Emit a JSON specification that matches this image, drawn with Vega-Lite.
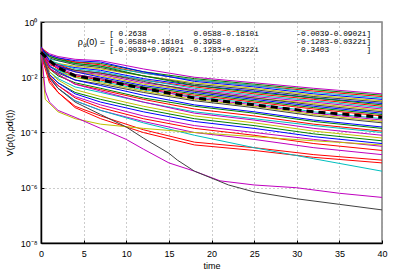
{
"$schema":"https://vega.github.io/schema/vega-lite/v6.json",
"width":341,"height":221,"autosize":"none",
"padding":{"left":41,"top":22,"right":25,"bottom":31},
"background":"white",
"config":{"view":{"stroke":"#808080","strokeWidth":1.5},"font":"Liberation Sans"},
"datasets":{
"runs":[
{"s":1,"t":0,"v":1.12e-1},{"s":1,"t":1,"v":7.08e-2},{"s":1,"t":2,"v":5.62e-2},{"s":1,"t":4,"v":4.47e-2},{"s":1,"t":7,"v":3.98e-2},{"s":1,"t":12,"v":2.0e-2},{"s":1,"t":18,"v":1.0e-2},{"s":1,"t":25,"v":6.31e-3},{"s":1,"t":32,"v":3.98e-3},{"s":1,"t":40,"v":2.51e-3},
{"s":2,"t":0,"v":8.91e-2},{"s":2,"t":1,"v":5.62e-2},{"s":2,"t":2,"v":4.47e-2},{"s":2,"t":4,"v":3.55e-2},{"s":2,"t":7,"v":3.16e-2},{"s":2,"t":12,"v":1.58e-2},{"s":2,"t":18,"v":8.91e-3},{"s":2,"t":25,"v":5.62e-3},{"s":2,"t":32,"v":3.55e-3},{"s":2,"t":40,"v":2.24e-3},
{"s":3,"t":0,"v":1.26e-1},{"s":3,"t":1,"v":6.31e-2},{"s":3,"t":2,"v":5.01e-2},{"s":3,"t":4,"v":3.55e-2},{"s":3,"t":7,"v":2.82e-2},{"s":3,"t":12,"v":1.41e-2},{"s":3,"t":18,"v":7.94e-3},{"s":3,"t":25,"v":5.01e-3},{"s":3,"t":32,"v":3.16e-3},{"s":3,"t":40,"v":2.0e-3},
{"s":4,"t":0,"v":7.94e-2},{"s":4,"t":1,"v":4.47e-2},{"s":4,"t":2,"v":3.98e-2},{"s":4,"t":4,"v":3.16e-2},{"s":4,"t":7,"v":2.51e-2},{"s":4,"t":12,"v":1.41e-2},{"s":4,"t":18,"v":7.94e-3},{"s":4,"t":25,"v":5.01e-3},{"s":4,"t":32,"v":2.82e-3},{"s":4,"t":40,"v":1.78e-3},
{"s":5,"t":0,"v":1.0e-1},{"s":5,"t":1,"v":6.31e-2},{"s":5,"t":2,"v":5.01e-2},{"s":5,"t":4,"v":3.98e-2},{"s":5,"t":7,"v":3.55e-2},{"s":5,"t":12,"v":1.58e-2},{"s":5,"t":18,"v":7.08e-3},{"s":5,"t":25,"v":4.47e-3},{"s":5,"t":32,"v":2.51e-3},{"s":5,"t":40,"v":1.58e-3},
{"s":6,"t":0,"v":7.08e-2},{"s":6,"t":1,"v":3.98e-2},{"s":6,"t":2,"v":3.16e-2},{"s":6,"t":4,"v":2.51e-2},{"s":6,"t":7,"v":2.0e-2},{"s":6,"t":12,"v":1.12e-2},{"s":6,"t":18,"v":6.31e-3},{"s":6,"t":25,"v":3.98e-3},{"s":6,"t":32,"v":2.24e-3},{"s":6,"t":40,"v":1.41e-3},
{"s":7,"t":0,"v":1.0e-1},{"s":7,"t":1,"v":5.01e-2},{"s":7,"t":2,"v":3.98e-2},{"s":7,"t":4,"v":2.82e-2},{"s":7,"t":7,"v":2.24e-2},{"s":7,"t":12,"v":1.12e-2},{"s":7,"t":18,"v":5.62e-3},{"s":7,"t":25,"v":3.55e-3},{"s":7,"t":32,"v":2.0e-3},{"s":7,"t":40,"v":1.26e-3},
{"s":8,"t":0,"v":6.31e-2},{"s":8,"t":1,"v":3.55e-2},{"s":8,"t":2,"v":2.82e-2},{"s":8,"t":4,"v":2.24e-2},{"s":8,"t":7,"v":1.78e-2},{"s":8,"t":12,"v":8.91e-3},{"s":8,"t":18,"v":5.01e-3},{"s":8,"t":25,"v":3.16e-3},{"s":8,"t":32,"v":1.78e-3},{"s":8,"t":40,"v":1.12e-3},
{"s":9,"t":0,"v":1.12e-1},{"s":9,"t":1,"v":5.62e-2},{"s":9,"t":2,"v":4.47e-2},{"s":9,"t":4,"v":3.16e-2},{"s":9,"t":7,"v":2.51e-2},{"s":9,"t":12,"v":1.12e-2},{"s":9,"t":18,"v":5.01e-3},{"s":9,"t":25,"v":2.82e-3},{"s":9,"t":32,"v":1.78e-3},{"s":9,"t":40,"v":1.0e-3},
{"s":10,"t":0,"v":7.94e-2},{"s":10,"t":1,"v":3.55e-2},{"s":10,"t":2,"v":2.82e-2},{"s":10,"t":4,"v":1.78e-2},{"s":10,"t":7,"v":1.41e-2},{"s":10,"t":12,"v":7.94e-3},{"s":10,"t":18,"v":4.47e-3},{"s":10,"t":25,"v":2.51e-3},{"s":10,"t":32,"v":1.58e-3},{"s":10,"t":40,"v":8.91e-4},
{"s":11,"t":0,"v":8.91e-2},{"s":11,"t":1,"v":3.98e-2},{"s":11,"t":2,"v":3.16e-2},{"s":11,"t":4,"v":2.0e-2},{"s":11,"t":7,"v":1.58e-2},{"s":11,"t":12,"v":7.94e-3},{"s":11,"t":18,"v":3.98e-3},{"s":11,"t":25,"v":2.24e-3},{"s":11,"t":32,"v":1.41e-3},{"s":11,"t":40,"v":7.94e-4},
{"s":12,"t":0,"v":5.62e-2},{"s":12,"t":1,"v":2.82e-2},{"s":12,"t":2,"v":2.24e-2},{"s":12,"t":4,"v":1.58e-2},{"s":12,"t":7,"v":1.26e-2},{"s":12,"t":12,"v":6.31e-3},{"s":12,"t":18,"v":3.55e-3},{"s":12,"t":25,"v":2.0e-3},{"s":12,"t":32,"v":1.26e-3},{"s":12,"t":40,"v":7.08e-4},
{"s":13,"t":0,"v":1.0e-1},{"s":13,"t":1,"v":3.55e-2},{"s":13,"t":2,"v":2.51e-2},{"s":13,"t":4,"v":1.58e-2},{"s":13,"t":7,"v":1.12e-2},{"s":13,"t":12,"v":5.62e-3},{"s":13,"t":18,"v":3.16e-3},{"s":13,"t":25,"v":1.78e-3},{"s":13,"t":32,"v":1.12e-3},{"s":13,"t":40,"v":6.31e-4},
{"s":14,"t":0,"v":7.08e-2},{"s":14,"t":1,"v":3.55e-2},{"s":14,"t":2,"v":2.51e-2},{"s":14,"t":4,"v":1.78e-2},{"s":14,"t":7,"v":1.41e-2},{"s":14,"t":12,"v":7.08e-3},{"s":14,"t":18,"v":3.16e-3},{"s":14,"t":25,"v":1.78e-3},{"s":14,"t":32,"v":1.0e-3},{"s":14,"t":40,"v":5.62e-4},
{"s":15,"t":0,"v":1.26e-1},{"s":15,"t":1,"v":3.98e-2},{"s":15,"t":2,"v":2.51e-2},{"s":15,"t":4,"v":1.58e-2},{"s":15,"t":7,"v":1.0e-2},{"s":15,"t":12,"v":5.01e-3},{"s":15,"t":18,"v":2.82e-3},{"s":15,"t":25,"v":1.58e-3},{"s":15,"t":32,"v":8.91e-4},{"s":15,"t":40,"v":5.01e-4},
{"s":16,"t":0,"v":6.31e-2},{"s":16,"t":1,"v":2.51e-2},{"s":16,"t":2,"v":1.78e-2},{"s":16,"t":4,"v":1.26e-2},{"s":16,"t":7,"v":8.91e-3},{"s":16,"t":12,"v":4.47e-3},{"s":16,"t":18,"v":2.51e-3},{"s":16,"t":25,"v":1.41e-3},{"s":16,"t":32,"v":7.94e-4},{"s":16,"t":40,"v":4.47e-4},
{"s":17,"t":0,"v":8.91e-2},{"s":17,"t":1,"v":3.16e-2},{"s":17,"t":2,"v":2.0e-2},{"s":17,"t":4,"v":1.12e-2},{"s":17,"t":7,"v":7.94e-3},{"s":17,"t":12,"v":3.98e-3},{"s":17,"t":18,"v":2.24e-3},{"s":17,"t":25,"v":1.26e-3},{"s":17,"t":32,"v":7.08e-4},{"s":17,"t":40,"v":3.98e-4},
{"s":18,"t":0,"v":7.08e-2},{"s":18,"t":1,"v":2.51e-2},{"s":18,"t":2,"v":1.78e-2},{"s":18,"t":4,"v":1.0e-2},{"s":18,"t":7,"v":7.08e-3},{"s":18,"t":12,"v":3.55e-3},{"s":18,"t":18,"v":2.0e-3},{"s":18,"t":25,"v":1.12e-3},{"s":18,"t":32,"v":5.62e-4},{"s":18,"t":40,"v":3.16e-4},
{"s":19,"t":0,"v":1.0e-1},{"s":19,"t":1,"v":3.55e-2},{"s":19,"t":2,"v":2.24e-2},{"s":19,"t":4,"v":1.26e-2},{"s":19,"t":7,"v":8.91e-3},{"s":19,"t":12,"v":3.98e-3},{"s":19,"t":18,"v":1.78e-3},{"s":19,"t":25,"v":1.0e-3},{"s":19,"t":32,"v":5.01e-4},{"s":19,"t":40,"v":2.82e-4},
{"s":20,"t":0,"v":7.94e-2},{"s":20,"t":1,"v":2.51e-2},{"s":20,"t":2,"v":1.58e-2},{"s":20,"t":4,"v":1.0e-2},{"s":20,"t":7,"v":6.31e-3},{"s":20,"t":12,"v":3.16e-3},{"s":20,"t":18,"v":1.58e-3},{"s":20,"t":25,"v":8.91e-4},{"s":20,"t":32,"v":4.47e-4},{"s":20,"t":40,"v":2.51e-4},
{"s":21,"t":0,"v":5.62e-2},{"s":21,"t":1,"v":2.0e-2},{"s":21,"t":2,"v":1.41e-2},{"s":21,"t":4,"v":7.94e-3},{"s":21,"t":7,"v":5.62e-3},{"s":21,"t":12,"v":2.82e-3},{"s":21,"t":18,"v":1.41e-3},{"s":21,"t":25,"v":7.94e-4},{"s":21,"t":32,"v":3.98e-4},{"s":21,"t":40,"v":2.24e-4},
{"s":22,"t":0,"v":1.0e-1},{"s":22,"t":1,"v":2.51e-2},{"s":22,"t":2,"v":1.58e-2},{"s":22,"t":4,"v":7.94e-3},{"s":22,"t":7,"v":5.01e-3},{"s":22,"t":12,"v":2.24e-3},{"s":22,"t":18,"v":1.0e-3},{"s":22,"t":25,"v":5.62e-4},{"s":22,"t":32,"v":2.82e-4},{"s":22,"t":40,"v":1.58e-4},
{"s":23,"t":0,"v":7.08e-2},{"s":23,"t":1,"v":2.0e-2},{"s":23,"t":2,"v":1.12e-2},{"s":23,"t":4,"v":6.31e-3},{"s":23,"t":7,"v":3.98e-3},{"s":23,"t":12,"v":1.78e-3},{"s":23,"t":18,"v":8.91e-4},{"s":23,"t":25,"v":5.01e-4},{"s":23,"t":32,"v":2.51e-4},{"s":23,"t":40,"v":1.41e-4},
{"s":24,"t":0,"v":8.91e-2},{"s":24,"t":1,"v":2.0e-2},{"s":24,"t":2,"v":1.26e-2},{"s":24,"t":4,"v":5.62e-3},{"s":24,"t":7,"v":3.55e-3},{"s":24,"t":12,"v":1.58e-3},{"s":24,"t":18,"v":7.08e-4},{"s":24,"t":25,"v":3.98e-4},{"s":24,"t":32,"v":2.0e-4},{"s":24,"t":40,"v":1.12e-4},
{"s":25,"t":0,"v":6.31e-2},{"s":25,"t":1,"v":1.58e-2},{"s":25,"t":2,"v":8.91e-3},{"s":25,"t":4,"v":4.47e-3},{"s":25,"t":7,"v":2.82e-3},{"s":25,"t":12,"v":1.26e-3},{"s":25,"t":18,"v":5.62e-4},{"s":25,"t":25,"v":3.16e-4},{"s":25,"t":32,"v":1.78e-4},{"s":25,"t":40,"v":1.0e-4},
{"s":26,"t":0,"v":1.12e-1},{"s":26,"t":1,"v":2.24e-2},{"s":26,"t":2,"v":1.26e-2},{"s":26,"t":4,"v":5.62e-3},{"s":26,"t":7,"v":3.16e-3},{"s":26,"t":12,"v":1.26e-3},{"s":26,"t":18,"v":5.01e-4},{"s":26,"t":25,"v":2.82e-4},{"s":26,"t":32,"v":1.41e-4},{"s":26,"t":40,"v":7.94e-5},
{"s":27,"t":0,"v":7.94e-2},{"s":27,"t":1,"v":1.58e-2},{"s":27,"t":2,"v":7.94e-3},{"s":27,"t":4,"v":3.55e-3},{"s":27,"t":7,"v":2.0e-3},{"s":27,"t":12,"v":8.91e-4},{"s":27,"t":18,"v":3.98e-4},{"s":27,"t":25,"v":2.24e-4},{"s":27,"t":32,"v":1.12e-4},{"s":27,"t":40,"v":6.31e-5},
{"s":28,"t":0,"v":6.31e-2},{"s":28,"t":1,"v":1.26e-2},{"s":28,"t":2,"v":6.31e-3},{"s":28,"t":4,"v":2.82e-3},{"s":28,"t":7,"v":1.58e-3},{"s":28,"t":12,"v":7.08e-4},{"s":28,"t":18,"v":3.16e-4},{"s":28,"t":25,"v":1.78e-4},{"s":28,"t":32,"v":8.91e-5},{"s":28,"t":40,"v":5.01e-5},
{"s":29,"t":0,"v":8.91e-2},{"s":29,"t":1,"v":1.26e-2},{"s":29,"t":2,"v":6.31e-3},{"s":29,"t":4,"v":2.51e-3},{"s":29,"t":7,"v":1.26e-3},{"s":29,"t":12,"v":5.62e-4},{"s":29,"t":18,"v":2.51e-4},{"s":29,"t":25,"v":1.41e-4},{"s":29,"t":32,"v":7.08e-5},{"s":29,"t":40,"v":3.98e-5},
{"s":30,"t":0,"v":7.08e-2},{"s":30,"t":1,"v":1.0e-2},{"s":30,"t":2,"v":5.01e-3},{"s":30,"t":4,"v":2.0e-3},{"s":30,"t":7,"v":1.0e-3},{"s":30,"t":12,"v":3.98e-4},{"s":30,"t":18,"v":1.78e-4},{"s":30,"t":25,"v":1.0e-4},{"s":30,"t":32,"v":5.62e-5},{"s":30,"t":40,"v":3.16e-5},
{"s":31,"t":0,"v":1.0e-1},{"s":31,"t":1,"v":1.12e-2},{"s":31,"t":2,"v":5.01e-3},{"s":31,"t":4,"v":1.78e-3},{"s":31,"t":7,"v":7.94e-4},{"s":31,"t":12,"v":3.16e-4},{"s":31,"t":18,"v":1.41e-4},{"s":31,"t":25,"v":7.94e-5},{"s":31,"t":32,"v":3.98e-5},{"s":31,"t":40,"v":2.24e-5},
{"s":32,"t":0,"v":7.94e-2},{"s":32,"t":1,"v":8.91e-3},{"s":32,"t":2,"v":3.98e-3},{"s":32,"t":4,"v":1.41e-3},{"s":32,"t":7,"v":6.31e-4},{"s":32,"t":12,"v":2.51e-4},{"s":32,"t":18,"v":1.0e-4},{"s":32,"t":25,"v":5.62e-5},{"s":32,"t":32,"v":2.82e-5},{"s":32,"t":40,"v":1.58e-5},
{"s":33,"t":0,"v":6.31e-2},{"s":33,"t":1,"v":6.31e-3},{"s":33,"t":2,"v":2.82e-3},{"s":33,"t":4,"v":8.91e-4},{"s":33,"t":7,"v":3.98e-4},{"s":33,"t":12,"v":1.26e-4},{"s":33,"t":18,"v":4.47e-5},{"s":33,"t":25,"v":2.82e-5},{"s":33,"t":32,"v":1.58e-5},{"s":33,"t":40,"v":1.0e-5},
{"s":34,"t":0,"v":1.12e-1},{"s":34,"t":1,"v":7.94e-3},{"s":34,"t":2,"v":2.82e-3},{"s":34,"t":4,"v":7.94e-4},{"s":34,"t":7,"v":3.16e-4},{"s":34,"t":12,"v":1.0e-4},{"s":34,"t":18,"v":3.55e-5},{"s":34,"t":25,"v":2.24e-5},{"s":34,"t":32,"v":1.26e-5},{"s":34,"t":40,"v":7.94e-6},
{"s":35,"t":0,"v":8.91e-2},{"s":35,"t":1,"v":1.0e-2},{"s":35,"t":2,"v":3.98e-3},{"s":35,"t":4,"v":1.41e-3},{"s":35,"t":7,"v":6.31e-4},{"s":35,"t":12,"v":2.24e-4},{"s":35,"t":18,"v":7.94e-5},{"s":35,"t":25,"v":2.82e-5},{"s":35,"t":32,"v":1.12e-5},{"s":35,"t":40,"v":3.98e-6},
{"s":36,"t":0,"v":1.0e-1},{"s":36,"t":0.5,"v":1.58e-3},{"s":36,"t":2,"v":5.62e-4},{"s":36,"t":4,"v":3.16e-4},{"s":36,"t":7,"v":2.0e-4},{"s":36,"t":12,"v":1.41e-4},{"s":36,"t":18,"v":1.0e-4},{"s":36,"t":25,"v":7.08e-5},{"s":36,"t":32,"v":5.01e-5},{"s":36,"t":40,"v":3.55e-5},
{"s":37,"t":0,"v":1.0e-1},{"s":37,"t":0.5,"v":3.16e-3},{"s":37,"t":1,"v":1.26e-3},{"s":37,"t":2,"v":6.31e-4},{"s":37,"t":4,"v":3.55e-4},{"s":37,"t":7,"v":1.41e-4},{"s":37,"t":10,"v":5.62e-5},{"s":37,"t":12,"v":2.51e-5},{"s":37,"t":15,"v":7.94e-6},{"s":37,"t":18,"v":3.98e-6},{"s":37,"t":21,"v":1.78e-6},{"s":37,"t":25,"v":1.26e-6},{"s":37,"t":30,"v":1.0e-6},{"s":37,"t":35,"v":6.31e-7},{"s":37,"t":40,"v":4.47e-7},
{"s":38,"t":0,"v":8.91e-2},{"s":38,"t":1,"v":1.0e-2},{"s":38,"t":2,"v":3.98e-3},{"s":38,"t":4,"v":1.26e-3},{"s":38,"t":7,"v":4.47e-4},{"s":38,"t":10,"v":1.58e-4},{"s":38,"t":12,"v":6.31e-5},{"s":38,"t":15,"v":1.78e-5},{"s":38,"t":16,"v":1.0e-5},{"s":38,"t":18,"v":3.98e-6},{"s":38,"t":22,"v":1.26e-6},{"s":38,"t":25,"v":7.08e-7},{"s":38,"t":30,"v":3.98e-7},{"s":38,"t":35,"v":2.51e-7},{"s":38,"t":40,"v":1.58e-7}
],
"mean":[
{"t":0,"v":7.94e-2},{"t":1,"v":3.98e-2},{"t":2,"v":2.24e-2},{"t":4,"v":1.12e-2},{"t":7,"v":7.94e-3},{"t":12,"v":3.98e-3},{"t":18,"v":1.78e-3},{"t":25,"v":1.0e-3},{"t":32,"v":5.62e-4},{"t":40,"v":3.55e-4}
]
},
"layer":[
{"data":{"name":"runs"},
 "mark":{"type":"line","strokeWidth":1,"clip":true},
 "encoding":{
  "x":{"field":"t","type":"quantitative","scale":{"domain":[0,40],"nice":false,"zero":false},
       "axis":{"values":[0,5,10,15,20,25,30,35,40],"title":"time","titleFontSize":9,"titleFontWeight":"normal","titlePadding":3,"titleColor":"#000",
               "labelFontSize":9,"labelPadding":9,"labelColor":"#000","labelFlush":false,
               "grid":true,"gridColor":"#999999","gridDash":[1,3],"gridWidth":1,
               "domainColor":"#000","domainWidth":1.5,"tickColor":"#000","tickSize":-3}},
  "y":{"field":"v","type":"quantitative","scale":{"type":"log","domain":[1e-8,1],"nice":false},
       "axis":{"values":[1e-8,1e-6,1e-4,1e-2,1],"labelExpr":"datum.value >= 0.5 ? '10⁰' : datum.value >= 0.005 ? '10⁻²' : datum.value >= 0.00005 ? '10⁻⁴' : datum.value >= 0.0000005 ? '10⁻⁶' : '10⁻⁸'",
               "title":"V(ρ(t),ρd(t))","titleFontSize":9,"titleFontWeight":"normal","titlePadding":6,"titleColor":"#000",
               "labelFontSize":9,"labelPadding":7,"labelColor":"#000","labelFlush":false,
               "grid":true,"gridColor":"#999999","gridDash":[1,3],"gridWidth":1,
               "domainColor":"#000","domainWidth":1.5,"tickColor":"#000","tickSize":-3}},
  "color":{"field":"s","type":"nominal","legend":null,
     "scale":{"domain":[1,2,3,4,5,6,7,8,9,10,11,12,13,14,15,16,17,18,19,20,21,22,23,24,25,26,27,28,29,30,31,32,33,34,35,36,37,38],
              "range":["#bf00bf","#008000","#ff0000","#00bfbf","#0000ff","#bfbf00","#404040","#0000ff","#008000","#ff0000","#00bfbf","#bf00bf","#bfbf00","#404040","#0000ff","#008000","#ff0000","#00bfbf","#bf00bf","#bfbf00","#404040","#0000ff","#008000","#ff0000","#00bfbf","#bf00bf","#bfbf00","#008000","#0000ff","#bf00bf","#ff0000","#bf00bf","#ff0000","#ff0000","#00bfbf","#bfbf00","#bf00bf","#404040"]}}
 }},
{"data":{"name":"mean"},
 "mark":{"type":"line","color":"#000","strokeWidth":3,"strokeDash":[7,5]},
 "encoding":{"x":{"field":"t","type":"quantitative"},"y":{"field":"v","type":"quantitative"}}},
{"data":{"values":[{}]},
 "mark":{"type":"text","font":"Liberation Mono","fontSize":7.8,"align":"left","baseline":"middle","color":"#000"},
 "encoding":{"x":{"datum":8.0,"type":"quantitative"},"y":{"datum":0.367,"type":"quantitative"},
  "text":{"value":"[\u00a00.2638\u00a0\u00a0\u00a0\u00a0\u00a0\u00a0\u00a0\u00a0\u00a0\u00a00.0588-0.1810i\u00a0\u00a0\u00a0\u00a0\u00a0\u00a0\u00a0\u00a0-0.0039-0.0902i]"}}},
{"data":{"values":[{}]},
 "mark":{"type":"text","font":"Liberation Mono","fontSize":7.8,"align":"left","baseline":"middle","color":"#000"},
 "encoding":{"x":{"datum":8.0,"type":"quantitative"},"y":{"datum":0.188,"type":"quantitative"},
  "text":{"value":"[\u00a00.0588+0.1810i\u00a0\u00a00.3958\u00a0\u00a0\u00a0\u00a0\u00a0\u00a0\u00a0\u00a0\u00a0\u00a0\u00a0\u00a0\u00a0\u00a0\u00a0\u00a0-0.1283-0.0322i]"}}},
{"data":{"values":[{}]},
 "mark":{"type":"text","font":"Liberation Mono","fontSize":7.8,"align":"left","baseline":"middle","color":"#000"},
 "encoding":{"x":{"datum":8.0,"type":"quantitative"},"y":{"datum":0.0968,"type":"quantitative"},
  "text":{"value":"[-0.0039+0.0902i\u00a0-0.1283+0.0322i\u00a0\u00a0\u00a0\u00a0\u00a0\u00a0\u00a0\u00a0\u00a00.3403\u00a0\u00a0\u00a0\u00a0\u00a0\u00a0\u00a0\u00a0]"}}},
{"data":{"values":[{}]},
 "mark":{"type":"text","fontSize":9,"align":"right","baseline":"middle","color":"#000"},
 "encoding":{"x":{"datum":4.9,"type":"quantitative"},"y":{"datum":0.188,"type":"quantitative"},"text":{"value":"ρ"}}},
{"data":{"values":[{}]},
 "mark":{"type":"text","fontSize":6,"align":"left","baseline":"middle","color":"#000"},
 "encoding":{"x":{"datum":4.95,"type":"quantitative"},"y":{"datum":0.147,"type":"quantitative"},"text":{"value":"d"}}},
{"data":{"values":[{}]},
 "mark":{"type":"text","fontSize":9,"align":"right","baseline":"middle","color":"#000"},
 "encoding":{"x":{"datum":7.5,"type":"quantitative"},"y":{"datum":0.188,"type":"quantitative"},"text":{"value":"(0) ="}}}
]
}
